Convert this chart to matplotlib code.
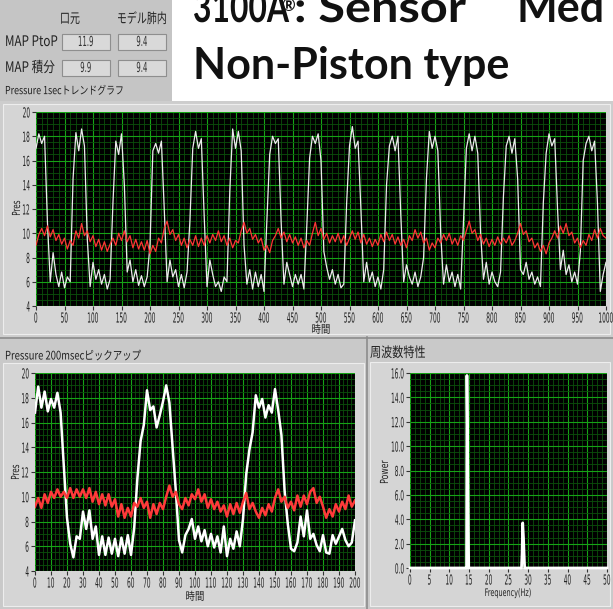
import numpy as np
import matplotlib
matplotlib.use('Agg')
import matplotlib.pyplot as plt
from matplotlib.patches import Rectangle
from matplotlib.patheffects import AbstractPathEffect
from matplotlib.transforms import Affine2D
from matplotlib.ticker import MultipleLocator, FormatStrFormatter

JP = ['Noto Sans CJK JP', 'DejaVu Sans']

# ---- data ----
# 1 sec trend graph, sampled every 5 time units (0..1000)
trend_t = np.arange(0, 1001, 5)
trend_white = [
    17.0, 18.2, 17.4, 18.0, 11.0, 6.0, 8.4, 6.6, 5.6, 6.8, 5.5, 6.4, 6.0, 14.5, 18.3, 16.8, 18.6, 17.2, 9.5, 5.6,
    7.6, 6.2, 7.0, 5.8, 6.6, 5.4, 6.2, 12.5, 17.6, 16.5, 18.2, 14.0, 6.8, 7.8, 6.0, 7.0, 5.7, 6.5, 5.6, 6.4,
    9.0, 16.8, 17.4, 16.6, 17.6, 12.0, 6.0, 7.8, 6.4, 7.0, 5.6, 6.6, 5.5, 6.8, 11.0, 17.0, 18.4, 17.0, 17.8, 11.5,
    5.6, 7.8, 6.6, 5.6, 6.0, 5.2, 6.4, 6.0, 13.5, 18.6, 17.0, 18.4, 16.8, 9.0, 5.8, 7.0, 5.4, 6.8, 5.6, 6.6,
    5.2, 11.0, 16.5, 18.0, 17.4, 17.8, 11.0, 5.8, 7.6, 6.6, 5.6, 6.6, 5.8, 6.6, 5.4, 10.5, 16.2, 18.0, 17.4, 18.2,
    16.0, 8.5, 7.2, 6.2, 7.0, 5.8, 6.6, 5.5, 5.8, 12.5, 17.2, 18.8, 17.0, 17.6, 12.0, 6.0, 7.6, 6.0, 6.8, 5.6,
    6.4, 5.4, 7.0, 14.0, 17.2, 18.0, 16.8, 18.0, 11.5, 6.0, 7.4, 6.4, 5.8, 6.8, 5.6, 6.4, 8.0, 14.5, 18.4, 17.0,
    18.0, 16.8, 10.0, 5.8, 7.4, 6.0, 6.8, 5.6, 6.6, 5.4, 11.0, 17.0, 18.2, 16.8, 18.0, 16.6, 10.0, 6.2, 7.6, 5.8,
    6.8, 6.0, 5.6, 6.8, 13.0, 17.2, 18.0, 16.6, 17.8, 14.5, 7.0, 6.6, 7.6, 6.2, 6.8, 5.8, 6.4, 5.6, 12.5, 16.6,
    18.2, 17.2, 17.8, 12.0, 7.0, 8.6, 6.6, 7.4, 6.0, 6.8, 5.8, 8.5, 16.0, 17.4, 18.0, 16.8, 17.6, 12.5, 5.2, 6.6,
    7.6]
trend_red = [
    9.0, 9.9, 10.4, 9.8, 10.6, 9.7, 10.3, 9.4, 9.9, 9.1, 9.6, 8.7, 9.4, 9.0, 10.2, 9.6, 10.8, 9.8, 10.2, 9.3,
    9.8, 8.9, 9.5, 8.6, 9.3, 8.5, 9.1, 9.6, 9.0, 10.0, 9.4, 10.2, 9.3, 9.8, 8.8, 9.5, 8.7, 9.3, 8.6, 9.4,
    8.3, 9.0, 8.5, 9.6, 9.2, 10.4, 11.0, 9.9, 10.3, 9.4, 9.9, 9.0, 9.6, 8.8, 9.5, 9.0, 9.8, 8.9, 9.6, 9.0,
    9.8, 9.2, 9.9, 9.4, 10.2, 9.3, 9.8, 9.0, 9.6, 8.8, 9.4, 9.2, 10.2, 10.9, 10.0, 10.4, 9.5, 9.9, 9.2, 9.6,
    8.6, 9.0, 8.4, 9.4, 9.8, 10.4, 9.6, 10.1, 9.3, 9.9, 9.2, 9.7, 9.0, 9.6, 8.8, 9.4, 9.0, 10.0, 10.9, 9.8,
    10.4, 9.5, 10.0, 9.2, 9.8, 9.3, 10.0, 9.2, 9.8, 9.0, 9.6, 10.2, 9.5, 10.1, 9.2, 9.9, 9.1, 9.6, 8.9, 9.5,
    9.0, 9.9, 9.3, 10.1, 9.4, 9.9, 9.1, 9.7, 9.0, 9.5, 8.8, 9.8, 9.4, 10.3, 9.6, 10.1, 9.2, 9.6, 8.6, 9.2,
    8.8, 9.6, 9.2, 9.9, 9.4, 10.0, 9.1, 9.6, 9.0, 9.8, 9.4, 10.2, 11.0, 10.0, 10.3, 9.4, 9.9, 9.1, 9.6, 8.9,
    9.5, 9.0, 9.7, 9.1, 9.6, 9.2, 9.8, 9.0, 9.4, 10.0, 10.8, 9.9, 10.2, 9.3, 9.6, 8.8, 9.2, 8.5, 9.0, 8.3,
    9.2, 9.6, 10.2, 9.6, 10.6, 10.0, 10.8, 9.8, 10.1, 9.2, 9.6, 8.8, 9.4, 9.0, 9.9, 9.4, 10.3, 9.6, 10.4, 9.8,
    9.6]

# 200 msec pick-up, sampled every 2 time units (0..200)
pick_t = np.arange(0, 201, 2)
pick_white = [
    16.8, 18.9, 17.2, 18.5, 16.9, 17.9, 17.2, 18.4, 16.8, 12.5, 8.3, 6.2, 5.1, 6.8, 6.6, 8.8, 7.4, 8.9, 6.6, 7.6,
    5.3, 6.8, 5.3, 6.7, 5.4, 6.6, 5.2, 6.7, 5.4, 6.9, 5.3, 7.5, 11.5, 14.5, 15.8, 18.6, 17.0, 17.3, 15.6, 16.6,
    17.7, 19.0, 17.6, 14.0, 10.5, 6.5, 5.5, 6.9, 7.4, 8.2, 6.6, 7.6, 6.4, 7.3, 6.0, 7.0, 5.9, 6.8, 5.5, 7.6,
    5.2, 6.6, 5.8, 7.2, 6.0, 8.2, 11.8, 13.8, 15.2, 18.2, 17.2, 17.9, 16.4, 17.4, 16.8, 18.7, 17.0, 15.0, 10.5, 7.8,
    5.8, 5.6, 6.3, 8.4, 6.8, 8.9, 6.6, 7.0, 6.1, 5.6, 6.9, 5.5, 5.4, 6.9, 6.2, 6.8, 7.4, 6.5, 6.0, 6.3,
    8.1]
pick_red = [
    9.2, 9.9, 9.1, 10.2, 9.5, 10.4, 9.9, 10.6, 10.0, 10.4, 9.9, 10.7, 9.9, 10.6, 10.0, 10.6, 9.9, 10.7, 9.6, 10.4,
    9.4, 10.2, 9.3, 10.2, 9.2, 9.8, 8.4, 9.4, 8.3, 9.1, 8.4, 9.5, 9.2, 9.9, 9.1, 9.6, 8.3, 9.4, 8.6, 9.5,
    9.0, 10.0, 10.9, 10.0, 10.4, 9.4, 9.0, 9.9, 9.3, 10.2, 9.8, 10.6, 9.6, 10.2, 9.1, 9.8, 9.0, 9.6, 8.8, 9.3,
    8.4, 9.4, 8.6, 9.5, 8.7, 9.6, 10.3, 9.0, 9.5, 8.8, 8.3, 9.1, 8.5, 9.4, 8.8, 9.9, 10.6, 9.6, 10.0, 9.1,
    9.6, 8.9, 10.1, 9.2, 10.1, 9.4, 10.4, 10.7, 9.5, 10.0, 9.2, 8.3, 9.0, 8.4, 9.4, 8.8, 9.6, 9.0, 10.1, 9.2,
    9.7]

# frequency characteristic (spectrum)
freq_hz = [0.0, 14.2, 14.35, 14.45, 14.6, 14.75, 14.9, 28.3, 28.45, 28.6, 28.8, 28.95, 29.1, 50.0]
power = [0.0, 0.0, 0.0, 15.8, 10.5, 5.3, 0.0, 0.0, 1.2, 3.7, 2.5, 1.2, 0.0, 0.0]

# MAP table
col_labels = ['口元', 'モデル肺内']
row_labels = ['MAP PtoP', 'MAP 積分']
map_values = [['11.9', '9.4'], ['9.9', '9.4']]


class Squeeze(AbstractPathEffect):
    ''' Draw text narrower (LabVIEW style condensed font) '''
    def __init__(self, sx, anchor='center'):
        super().__init__()
        self.sx = sx
        self.anchor = anchor

    def draw_path(self, renderer, gc, tpath, affine, rgbFace=None):
        xs = tpath.vertices[:, 0] if len(tpath.vertices) else np.array([0.0])
        if self.anchor == 'left':
            cx = 0.0
        elif self.anchor == 'right':
            cx = xs.max()
        else:
            cx = (xs.min() + xs.max()) / 2
        t = Affine2D().translate(-cx, 0).scale(self.sx, 1).translate(cx, 0)
        renderer.draw_path(gc, tpath, t + affine, rgbFace)


W, H = 613, 609
fig = plt.figure(figsize=(W / 100, H / 100), dpi=100)
fig.patch.set_facecolor('white')

# background layer in pixel coordinates
bg = fig.add_axes([0, 0, 1, 1])
bg.set_xlim(0, W)
bg.set_ylim(H, 0)
bg.axis('off')

def rect(x, y, w, h, fc, ec='none', lw=0.8, z=0):
    bg.add_patch(Rectangle((x, y), w, h, facecolor=fc, edgecolor=ec, linewidth=lw, zorder=z))

def label(x, y, s, size, sx, anchor='center', **kw):
    kw.setdefault('color', '#222')
    kw.setdefault('va', 'center')
    kw.setdefault('ha', anchor)
    return bg.text(x, y, s, fontsize=size, path_effects=[Squeeze(sx, anchor)], **kw)

# panels
rect(0, 0, 172, 101, '#c5c5c5')
rect(0, 101, W, 236, '#cdcdcd')
rect(3, 104, W - 6, 230, '#d5d5d5', ec='#ededed', z=1)
rect(0, 337, 367, 272, '#c9c9c9')
rect(3, 363, 361, 243, '#d5d5d5', ec='#ededed', z=1)
rect(367, 337, W - 367, 272, '#c9c9c9')
rect(370, 362, W - 373, 244, '#d5d5d5', ec='#ededed', z=1)
bg.plot([0, W], [337.5, 337.5], color='#8c8c8c', lw=1.2, zorder=2)
bg.plot([366.5, 366.5], [337, H], color='#8c8c8c', lw=1.2, zorder=2)

# MAP table
for j, lab in enumerate(col_labels):
    label([70, 142][j], 19, lab, 10, 0.72, family=JP)
for i, lab in enumerate(row_labels):
    yc = [42, 68][i]
    label(5, yc, lab, 10.5, 0.8, anchor='left', family=JP)
    for j in range(2):
        x0 = [62, 118][j]
        rect(x0, yc - 8, 48, 16, '#d9d9d9', ec='#8e8e8e', lw=0.8, z=2)
        label(x0 + 24, yc, map_values[i][j], 10, 0.5, color='#333', zorder=3)

# big slide title
big = dict(fontweight='bold', family='Lato', color='#111', va='baseline')
label(193, 22, '3100A', 31, 0.74, anchor='left', **big)
bg.text(281, 11, '®', fontsize=12, **big)
label(294, 22, ': Sensor', 31, 1.13, anchor='left', **big)
bg.text(517, 22, 'Med', fontsize=31, **big)
bg.text(193, 79, 'Non-Piston type', fontsize=31, **big)

label(5, 91, 'Pressure 1secトレンドグラフ', 8, 0.8, anchor='left', family=JP)
label(5, 356, 'Pressure 200msecピックアップ', 8.5, 0.8, anchor='left', family=JP)
label(370, 353, '周波数特性', 10, 0.8, anchor='left', family=JP)

def graph_axes(left, top, right, bottom):
    return fig.add_axes([left / W, 1 - bottom / H, (right - left) / W, (bottom - top) / H])

def style(ax, xmaj, xmin, ymaj, ymin):
    ax.set_facecolor('black')
    ax.set_axisbelow(True)
    ax.xaxis.set_major_locator(MultipleLocator(xmaj))
    ax.xaxis.set_minor_locator(MultipleLocator(xmin))
    ax.yaxis.set_major_locator(MultipleLocator(ymaj))
    ax.yaxis.set_minor_locator(MultipleLocator(ymin))
    ax.grid(which='minor', color='#0b4f0b', lw=0.6)
    ax.grid(which='major', color='#16a316', lw=0.8)
    for s in ax.spines.values():
        s.set_visible(False)
    ax.tick_params(which='major', direction='out', length=3, width=0.8, color='#333',
                   labelsize=10, labelcolor='#222', pad=1)
    ax.tick_params(which='minor', length=0)

# 1 sec trend
ax1 = graph_axes(36, 112, 606, 306)
ax1.plot(trend_t, trend_white, color='#ececec', lw=0.9)
ax1.plot(trend_t, trend_red, color='#ff3535', lw=0.9)
ax1.set_xlim(0, 1000)
ax1.set_ylim(4, 20)
style(ax1, 50, 10, 2, 0.5)
label(17, 208, 'Pres', 8, 0.65, rotation=90)
label(321, 330, '時間', 8, 0.85, family=JP)

# 200 msec pick-up
ax2 = graph_axes(35, 373, 355, 571)
ax2.plot(pick_t, pick_white, color='white', lw=1.8)
ax2.plot(pick_t, pick_red, color='#ff3a3a', lw=1.8)
ax2.set_xlim(0, 200)
ax2.set_ylim(4, 20)
style(ax2, 10, 2.5, 2, 0.5)
label(16, 472, 'Pres', 8, 0.65, rotation=90)
label(195, 597, '時間', 8, 0.85, family=JP)

# spectrum
ax3 = graph_axes(410, 373, 607, 568)
ax3.plot(freq_hz, power, color='white', lw=2, clip_on=False)
ax3.set_xlim(0, 50)
ax3.set_ylim(0, 16)
style(ax3, 5, 1.25, 2, 0.5)
ax3.yaxis.set_major_formatter(FormatStrFormatter('%.1f'))
label(385, 472, 'Power', 8, 0.7, rotation=90)
label(508, 593, 'Frequency(Hz)', 7.5, 0.62)

# condense the tick labels once the ticks exist
fig.canvas.draw()
for ax in (ax1, ax2, ax3):
    for lbl in ax.get_xticklabels():
        lbl.set_path_effects([Squeeze(0.42, 'center')])
    for lbl in ax.get_yticklabels():
        lbl.set_path_effects([Squeeze(0.42, 'right')])

fig.savefig('out.png', dpi=100)
